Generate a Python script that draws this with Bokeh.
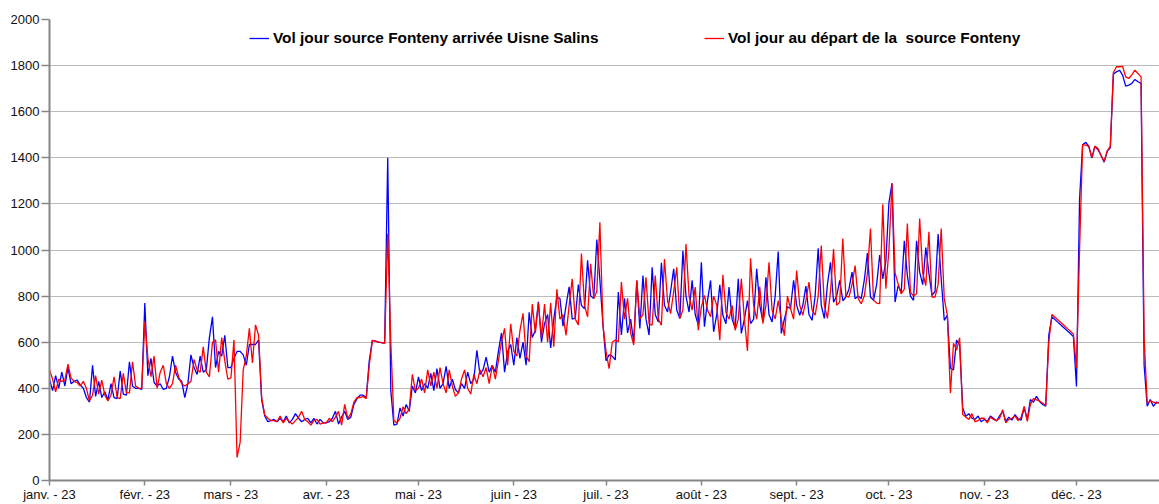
from bokeh.plotting import figure
from bokeh.models import (ColumnDataSource, FixedTicker, Range1d, Legend, LegendItem)
from bokeh.embed import file_html
from bokeh.resources import INLINE

# ---- Data (daily volumes, 2023) ----
bleu_janv = [440, 390, 455, 400, 470, 410, 490, 420, 430, 435, 415, 400, 360, 340, 500, 365,
             430, 360, 385, 350, 420, 360, 355, 475, 375, 370, 515, 410, 400, 400, 395]
rouge_janv = [480, 440, 385, 440, 430, 435, 505, 445, 430, 425, 410, 430, 400, 345, 370, 455,
              375, 435, 370, 345, 370, 450, 360, 355, 465, 380, 380, 515, 410, 400, 400]
bleu_fevr = [770, 455, 530, 425, 410, 420, 395, 400, 450, 540, 470, 440, 430, 360, 420, 545,
             490, 460, 540, 470, 480, 620, 710, 490, 560, 540, 630, 490]
rouge_fevr = [690, 530, 450, 540, 400, 470, 500, 420, 400, 420, 500, 450, 420, 410, 420, 430,
              525, 480, 470, 580, 470, 450, 600, 610, 470, 620, 520, 440]
bleu_mars = [490, 530, 560, 560, 545, 500, 590, 590, 590, 610, 350, 280, 255, 260, 265, 255,
             270, 255, 280, 250, 265, 290, 270, 255, 265, 270, 250, 270, 245, 265, 250]
rouge_mars = [445, 610, 100, 165, 480, 540, 660, 510, 675, 630, 360, 285, 270, 260, 260, 255,
              280, 250, 270, 255, 245, 260, 275, 300, 265, 255, 240, 260, 265, 245, 250]
bleu_avr = [250, 255, 270, 300, 245, 275, 300, 265, 275, 330, 355, 370, 370, 360, 520, 608,
            605, 600, 598, 595, 1400, 390, 240, 245, 315, 280, 330, 300, 410, 380]
rouge_avr = [250, 270, 255, 275, 300, 240, 330, 270, 290, 340, 360, 360, 365, 355, 500, 608,
             605, 600, 598, 595, 1070, 600, 260, 250, 270, 320, 290, 310, 460, 390]
bleu_mai = [450, 390, 420, 400, 465, 390, 485, 400, 420, 495, 400, 440, 395, 380, 420, 400,
            470, 420, 440, 565, 460, 480, 535, 470, 500, 470]
rouge_mai = [400, 440, 380, 480, 410, 470, 400, 490, 420, 380, 480, 410, 365, 380, 440, 480,
             400, 375, 460, 420, 480, 450, 490, 420, 500, 440]
bleu_juin = [560, 640, 470, 560, 590, 500, 620, 530, 600, 500, 730, 620, 650, 775, 600, 680,
             720, 575, 700, 795, 790, 670, 760, 840, 700, 705, 850, 760, 745, 955, 800, 790,
             1045, 870, 675]
rouge_juin = [520, 600, 660, 500, 680, 560, 540, 650, 725, 540, 515, 765, 640, 770, 620, 765,
              600, 770, 580, 830, 700, 720, 630, 760, 875, 700, 675, 985, 760, 710, 940, 790,
              820, 1120, 674]
bleu_juil = [520, 545, 540, 523, 818, 631, 790, 640, 700, 600, 868, 660, 889, 700, 631, 925,
             720, 688, 944, 760, 731, 820, 918, 740, 703, 997, 800, 731, 868, 720, 674]
rouge_juil = [560, 485, 600, 609, 602, 861, 700, 790, 640, 588, 868, 700, 720, 882, 680, 674,
              889, 700, 674, 961, 780, 724, 820, 925, 703, 740, 1026, 800, 739, 839, 652]
bleu_aout = [947, 667, 780, 868, 645, 720, 849, 717, 680, 839, 700, 660, 875, 638, 700, 780,
             681, 700, 918, 760, 690, 882, 720, 688, 800, 993, 638, 700, 753, 746, 868]
rouge_aout = [753, 803, 740, 710, 800, 760, 609, 892, 730, 700, 760, 652, 700, 875, 700, 562,
              964, 760, 700, 840, 681, 760, 947, 740, 700, 780, 700, 628, 800, 746, 700]
bleu_sept = [760, 717, 760, 843, 720, 695, 800, 1007, 760, 703, 850, 947, 774, 800, 868, 780,
             796, 830, 904, 789, 800, 789, 870, 987, 796, 782, 850, 978, 875, 950]
rouge_sept = [911, 760, 717, 780, 861, 740, 717, 800, 1019, 760, 703, 820, 1004, 760, 774, 1050,
              800, 796, 850, 932, 789, 767, 800, 900, 1093, 782, 770, 767, 1198, 832]
bleu_oct = [1205, 1289, 774, 846, 817, 1040, 889, 800, 782, 1040, 904, 850, 1011, 900, 803, 820,
            1069, 875, 695, 717, 487, 480, 609, 588, 315, 279, 290, 270, 265, 280, 255]
rouge_oct = [1000, 1289, 900, 853, 810, 830, 1115, 817, 800, 810, 1137, 900, 846, 1079, 796, 796,
             850, 1093, 789, 717, 379, 595, 566, 619, 286, 275, 265, 290, 255, 260, 270]
bleu_nov = [265, 257, 280, 270, 258, 280, 300, 257, 275, 262, 286, 268, 262, 315, 264, 351,
            340, 365, 343, 330, 322, 631, 710, 698, 686, 674, 662, 650, 638, 624]
rouge_nov = [270, 250, 275, 265, 260, 270, 307, 250, 265, 270, 280, 260, 275, 322, 257, 330,
             355, 350, 345, 335, 325, 600, 720, 708, 696, 684, 672, 660, 648, 635]
bleu_dec = [408, 1220, 1457, 1467, 1450, 1399, 1450, 1435, 1410, 1381, 1428, 1443, 1763, 1773,
            1780, 1759, 1711, 1715, 1723, 1740, 1730, 1723, 500, 322, 351, 322, 340, 335]
rouge_dec = [487, 1000, 1457, 1455, 1450, 1400, 1450, 1440, 1410, 1385, 1430, 1450, 1770, 1795,
             1795, 1797, 1751, 1744, 1760, 1780, 1766, 1751, 620, 335, 345, 340, 336, 340]

mois_debut = [0, 31, 59, 90, 120, 151, 181, 212, 243, 273, 304, 334]
mois_labels = ["janv. - 23", "févr. - 23", "mars - 23", "avr. - 23", "mai - 23", "juin - 23",
               "juil. - 23", "août - 23", "sept. - 23", "oct. - 23", "nov. - 23", "déc. - 23"]
y_ticks = [0, 200, 400, 600, 800, 1000, 1200, 1400, 1600, 1800, 2000]

label_bleu = "Vol jour source Fonteny arrivée Uisne Salins"
label_rouge = "Vol jour au départ de la  source Fonteny"

bleu = (bleu_janv + bleu_fevr + bleu_mars + bleu_avr + bleu_mai + bleu_juin + bleu_juil
        + bleu_aout + bleu_sept + bleu_oct + bleu_nov + bleu_dec)
rouge = (rouge_janv + rouge_fevr + rouge_mars + rouge_avr + rouge_mai + rouge_juin + rouge_juil
         + rouge_aout + rouge_sept + rouge_oct + rouge_nov + rouge_dec)
jours = list(range(len(bleu)))

src = ColumnDataSource(dict(x=jours, bleu=bleu, rouge=rouge))

FONT = "Liberation Sans"

p = figure(width=1159, height=504, output_backend="svg", toolbar_location=None,
           x_range=Range1d(0, 361), y_range=Range1d(0, 2000),
           min_border_left=49, min_border_right=0, min_border_top=19, min_border_bottom=18)
p.outline_line_color = None
p.background_fill_color = "white"
p.border_fill_color = "white"

r_bleu = p.line("x", "bleu", source=src, line_color="#0000FF", line_width=1.3)
r_rouge = p.line("x", "rouge", source=src, line_color="#FF0000", line_width=1.3)

# axes
p.xaxis.ticker = FixedTicker(ticks=mois_debut)
p.xaxis.major_label_overrides = {d: l for d, l in zip(mois_debut, mois_labels)}
p.yaxis.ticker = FixedTicker(ticks=y_ticks)
for ax in (p.xaxis[0], p.yaxis[0]):
    ax.axis_line_color = "#868686"
    ax.axis_line_width = 2
    ax.major_tick_line_color = "#868686"
    ax.major_tick_line_width = 1.5
    ax.minor_tick_line_color = None
    ax.major_tick_in = 0
    ax.major_label_text_font = FONT
    ax.major_label_text_font_size = "13px"
    ax.major_label_text_color = "#111111"
p.xaxis.major_tick_out = 5
p.xaxis.major_label_standoff = 1
p.yaxis.major_tick_out = 8
p.yaxis.major_label_standoff = 2

p.xgrid.grid_line_color = None
p.ygrid.grid_line_color = "#777777"
p.ygrid.grid_line_dash = "1 1"
p.ygrid.grid_line_width = 1

def make_legend(item, loc):
    lg = Legend(items=[item], location=loc, orientation="horizontal",
                label_text_font=FONT, label_text_font_size="15.4px",
                label_text_font_style="bold", label_text_color="#000000",
                glyph_width=20, glyph_height=20, label_height=20, label_standoff=4,
                padding=0, margin=0, spacing=0,
                border_line_color=None, background_fill_alpha=0)
    return lg

p.add_layout(make_legend(LegendItem(label=label_bleu, renderers=[r_bleu]), (200, 432)))
p.add_layout(make_legend(LegendItem(label=label_rouge, renderers=[r_rouge]), (655, 432)))

open("out.html", "w").write(file_html(p, INLINE))
